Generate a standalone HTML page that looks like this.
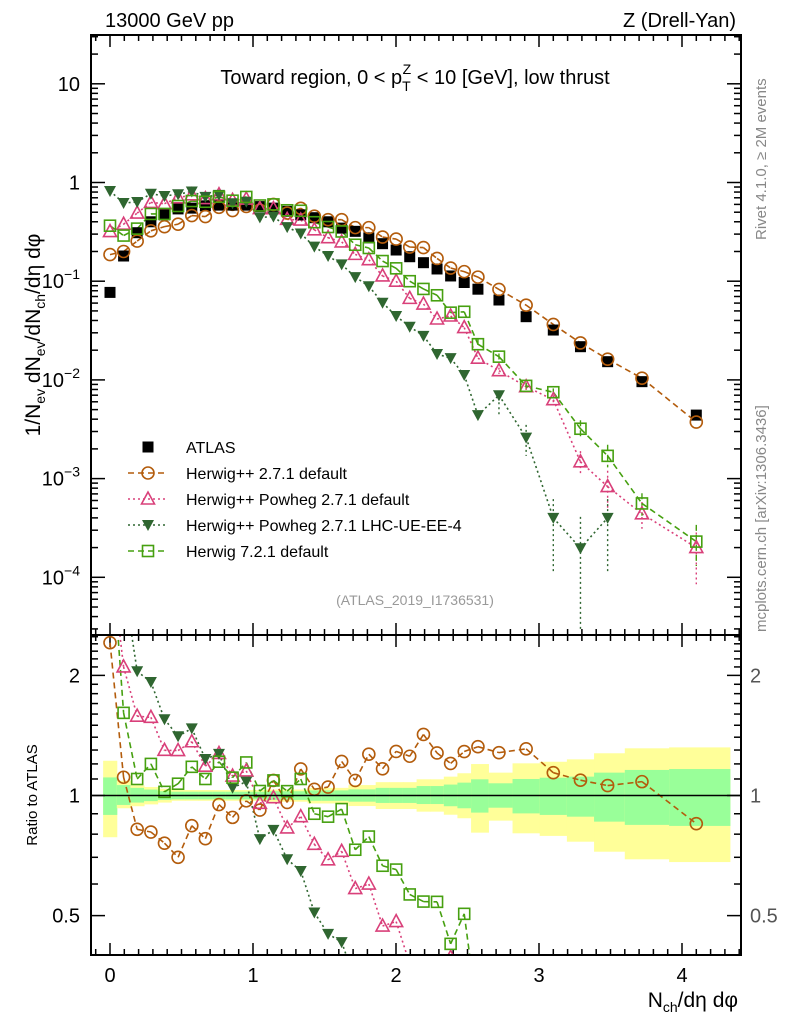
<!DOCTYPE html>
<html><head><meta charset="utf-8"><style>
html,body{margin:0;padding:0;background:#fff;width:786px;height:1024px;overflow:hidden;}
svg{display:block;font-family:"Liberation Sans",sans-serif;}
</style></head><body>
<svg id="chart" width="786" height="1024" viewBox="0 0 786 1024" xmlns="http://www.w3.org/2000/svg">
<defs>
<clipPath id="clipMain"><rect x="91" y="35" width="650" height="600"/></clipPath>
<clipPath id="clipRatio"><rect x="91" y="635" width="650" height="320"/></clipPath>
</defs>
<rect width="786" height="1024" fill="#fff"/>
<g id="ratioBand" clip-path="url(#clipRatio)"></g>
<g id="axes"></g>
<g id="mainMarks" clip-path="url(#clipMain)"></g>
<g id="ratioMarks" clip-path="url(#clipRatio)"></g>
<line x1="91" x2="741" y1="795.5" y2="795.5" stroke="#000" stroke-width="1.5"/>
<rect x="91" y="35" width="650" height="600" fill="none" stroke="#000" stroke-width="2"/>
<rect x="91" y="635" width="650" height="320" fill="none" stroke="#000" stroke-width="2"/>

<text x="105" y="27" font-size="20">13000 GeV pp</text>
<text x="736" y="27" font-size="20" text-anchor="end">Z (Drell-Yan)</text>
<text x="415" y="84" font-size="20" text-anchor="middle">Toward region, 0 &lt; p<tspan font-size="14" dy="7">T</tspan><tspan font-size="14" dx="-8" dy="-17">Z</tspan><tspan dy="10"> &lt; 10 [GeV], low thrust</tspan></text>
<text transform="translate(766,240) rotate(-90)" font-size="15" fill="#888">Rivet 4.1.0, ≥ 2M events</text>
<text transform="translate(766,632) rotate(-90)" font-size="15" fill="#888">mcplots.cern.ch [arXiv:1306.3436]</text>
<text x="415" y="605" font-size="14" fill="#999" text-anchor="middle">(ATLAS_2019_I1736531)</text>
<text transform="translate(40,335) rotate(-90)" font-size="21" text-anchor="middle">1/N<tspan font-size="14" dy="5">ev</tspan><tspan dy="-5"> dN</tspan><tspan font-size="14" dy="5">ev</tspan><tspan dy="-5">/dN</tspan><tspan font-size="14" dy="5">ch</tspan><tspan dy="-5">/dη dφ</tspan></text>
<text transform="translate(37,795) rotate(-90)" font-size="15" text-anchor="middle">Ratio to ATLAS</text>
<text x="738" y="1007" font-size="21" text-anchor="end">N<tspan font-size="14" dy="5">ch</tspan><tspan dy="-5">/dη dφ</tspan></text>

<g id="legend"></g>
</svg>
<script>
const xVals=[0,0.095,0.19,0.286,0.381,0.476,0.572,0.667,0.762,0.857,0.953,1.048,1.143,1.239,1.334,1.429,1.525,1.62,1.715,1.81,1.906,2.001,2.096,2.192,2.287,2.382,2.477,2.573,2.72,2.91,3.10,3.29,3.48,3.72,4.10];
const atlas=[0.077,0.18,0.31,0.40,0.47,0.54,0.55,0.58,0.59,0.59,0.59,0.57,0.55,0.51,0.47,0.44,0.40,0.345,0.32,0.275,0.24,0.207,0.177,0.154,0.133,0.113,0.097,0.083,0.0645,0.0437,0.032,0.0217,0.0153,0.0096,0.0044];
const herwigpp=[0.186,0.20,0.255,0.324,0.357,0.378,0.462,0.452,0.56,0.52,0.572,0.524,0.60,0.49,0.548,0.456,0.42,0.42,0.349,0.349,0.28,0.267,0.222,0.219,0.170,0.136,0.125,0.110,0.0826,0.0572,0.0365,0.0237,0.0162,0.0104,0.00374];
const powheg=[0.318,0.378,0.49,0.628,0.61,0.70,0.75,0.687,0.752,0.66,0.68,0.545,0.543,0.423,0.416,0.332,0.276,0.25,0.187,0.165,0.113,0.100,0.067,0.0587,0.0414,0.0444,0.0339,0.0166,0.0124,0.00853,0.0063,0.00148,0.00083,0.00044,0.0002];
const powhegUE=[0.82,0.62,0.635,0.77,0.73,0.76,0.81,0.716,0.75,0.617,0.639,0.443,0.451,0.353,0.304,0.224,0.18,0.148,0.11,0.089,0.0605,0.0444,0.0346,0.0279,0.0183,0.0166,0.0112,0.0044,0.007,0.0026,0.0004,0.000197,0.0004];
const herwig7=[0.365,0.29,0.341,0.48,0.48,0.578,0.649,0.638,0.717,0.654,0.714,0.585,0.60,0.523,0.517,0.396,0.354,0.319,0.234,0.217,0.16,0.135,0.10,0.0835,0.072,0.048,0.049,0.023,0.0172,0.0087,0.0075,0.0032,0.0017,0.00056,0.00023];
const tailErrLoPowheg=[0.0115,0.0078,0.0056,0.0011,0.00048,0.00031,0.000085];
const tailErrHiPowheg=[0.0133,0.0093,0.0070,0.0019,0.0012,0.00058,0.00032];
const tailErrLoUE=[0.0042,0.0017,0.00011,0.00003,0.00011];
const tailErrHiUE=[0.0075,0.0035,0.00062,0.00041,0.00062];
const tailErrLoH7=[0.0200,0.0160,0.0080,0.0068,0.0026,0.0013,0.00042,0.00013];
const tailErrHiH7=[0.0260,0.0185,0.0094,0.0082,0.0039,0.0022,0.00071,0.00034];
const bandYHi=[1.222,1.089,1.06,1.05,1.04,1.032,1.032,1.032,1.032,1.032,1.032,1.032,1.035,1.035,1.035,1.045,1.045,1.045,1.062,1.062,1.08,1.08,1.08,1.098,1.098,1.115,1.137,1.199,1.141,1.204,1.215,1.232,1.276,1.313,1.32];
const bandYLo=[0.786,0.929,0.94,0.95,0.96,0.97,0.97,0.97,0.97,0.97,0.97,0.97,0.965,0.965,0.965,0.955,0.955,0.955,0.941,0.941,0.925,0.925,0.925,0.911,0.911,0.895,0.877,0.807,0.865,0.804,0.792,0.766,0.723,0.692,0.681];
const bandGHi=[1.11,1.062,1.045,1.035,1.025,1.022,1.022,1.022,1.022,1.022,1.022,1.022,1.025,1.025,1.025,1.03,1.03,1.03,1.036,1.036,1.045,1.045,1.045,1.056,1.056,1.065,1.077,1.098,1.073,1.10,1.108,1.115,1.141,1.159,1.165];
const bandGLo=[0.894,0.947,0.96,0.968,0.975,0.978,0.978,0.978,0.978,0.978,0.978,0.978,0.975,0.975,0.975,0.97,0.97,0.97,0.965,0.965,0.958,0.958,0.958,0.952,0.952,0.94,0.929,0.906,0.932,0.902,0.894,0.885,0.86,0.844,0.839];
const xTicks=[0,1,2,3,4];
const yDecades=[-4,-3,-2,-1,0,1];
const ratioTicks=[0.5,1,2];
const seriesNames=["ATLAS","Herwig++ 2.7.1 default","Herwig++ Powheg 2.7.1 default","Herwig++ Powheg 2.7.1 LHC-UE-EE-4","Herwig 7.2.1 default"];

const NS="http://www.w3.org/2000/svg";
function X(v){return 110+143*v;}
function Y(v){return 182.5-98.7*Math.log10(v);}
function R(r){return 795.5-399*Math.log10(r);}
function mk(tag,attrs,parent){const e=document.createElementNS(NS,tag);for(const k in attrs)e.setAttribute(k,attrs[k]);parent.appendChild(e);return e;}

const axes=document.getElementById('axes');
const mainG=document.getElementById('mainMarks');
const ratioG=document.getElementById('ratioMarks');
const bandG=document.getElementById('ratioBand');

function edges(i){
  const l=i===0?xVals[0]-0.048:(xVals[i-1]+xVals[i])/2;
  const r=i===xVals.length-1?4.335:(xVals[i]+xVals[i+1])/2;
  return [X(l),X(r)];
}
for(let i=0;i<xVals.length;i++){
  const [a,b]=edges(i);
  const ry=mk('rect',{x:a,y:R(bandYHi[i]),width:b-a+0.5,height:R(bandYLo[i])-R(bandYHi[i]),fill:'#ffff99'},bandG);
  
  
  const rg=mk('rect',{x:a,y:R(bandGHi[i]),width:b-a+0.5,height:R(bandGLo[i])-R(bandGHi[i]),fill:'#99ff99'},bandG);
  
  
}

function tick(x1,y1,x2,y2,name){const t=mk('line',{x1,y1,x2,y2,stroke:'#000','stroke-width':1.5},axes);}
for(let k=-1;k<=44;k++){
  const vv=k/10;const major=(k%10===0);const x=X(vv);
  if(x<92||x>740)continue;
  const L=major?12:6;
  tick(x,635,x,635-L,'x-tick');tick(x,35,x,35+L,'x-tick');
  tick(x,955,x,955-L,'x-tick');tick(x,635,x,635+L,'x-tick');
}
xTicks.forEach(v=>{const t=mk('text',{x:X(v),y:982,'font-size':20,'text-anchor':'middle'},axes);t.textContent=String(v);});
for(let d=-5;d<=1;d++){
  for(let m=1;m<=9;m++){
    const y=Y(m*Math.pow(10,d));if(y<36||y>634)continue;
    const L=m===1?14:7;
    tick(91,y,91+L,y,'y-tick');tick(741,y,741-L,y,'y-tick');
  }
}
yDecades.forEach(d=>{
  const t=mk('text',{x:80,y:Y(Math.pow(10,d))+7,'font-size':20,'text-anchor':'end'},axes);
  
  
  if(d===0){t.textContent='1';}
  else if(d===1){t.textContent='10';}
  else{t.textContent='10';const s=mk('tspan',{'font-size':14,dy:-9},t);s.textContent='−'+(-d);}
});
for(let k=4;k<=25;k++){
  const rr=k/10;const y=R(rr);if(y<636||y>954)continue;
  const major=ratioTicks.indexOf(rr)>=0;const L=major?14:7;
  tick(91,y,91+L,y,'ratio-y-tick');tick(741,y,741-L,y,'ratio-y-tick');
}
ratioTicks.forEach(r=>{
  const t1=mk('text',{x:80,y:R(r)+7,'font-size':20,'text-anchor':'end'},axes);t1.textContent=String(r);
  
  const t2=mk('text',{x:750,y:R(r)+7,'font-size':20,'text-anchor':'start',fill:'#555'},axes);t2.textContent=String(r);
  
});

function marker(kind,color,x,y,parent,name){
  let e;
  if(kind==='sqf'){e=mk('rect',{x:x-5.5,y:y-5.5,width:11,height:11,fill:'#000'},parent);}
  else if(kind==='circ'){e=mk('circle',{cx:x,cy:y,r:6,fill:'none',stroke:color,'stroke-width':1.6},parent);}
  else if(kind==='triu'){e=mk('polygon',{points:(x)+','+(y-7)+' '+(x-6.5)+','+(y+5)+' '+(x+6.5)+','+(y+5),fill:'none',stroke:color,'stroke-width':1.6},parent);}
  else if(kind==='trid'){e=mk('polygon',{points:(x)+','+(y+6)+' '+(x-6)+','+(y-5)+' '+(x+6)+','+(y-5),fill:color},parent);}
  else {e=mk('rect',{x:x-5.5,y:y-5.5,width:11,height:11,fill:'none',stroke:color,'stroke-width':1.6},parent);}
  
  
  return e;
}
// clip a polyline to a y band so nothing extends outside the page
function clippedPath(pts,ymin,ymax){
  let d='';
  for(let i=0;i<pts.length-1;i++){
    let [x1,y1]=pts[i],[x2,y2]=pts[i+1];
    let t0=0,t1=1;const dy=y2-y1;
    if(dy===0){if(y1<ymin||y1>ymax)continue;}
    else{
      let ta=(ymin-y1)/dy,tb=(ymax-y1)/dy;
      if(ta>tb){const tt=ta;ta=tb;tb=tt;}
      t0=Math.max(0,ta);t1=Math.min(1,tb);
      if(t0>t1)continue;
    }
    const ax=x1+(x2-x1)*t0,ay=y1+dy*t0,bx=x1+(x2-x1)*t1,by=y1+dy*t1;
    d+='M'+ax.toFixed(2)+','+ay.toFixed(2)+'L'+bx.toFixed(2)+','+by.toFixed(2);
  }
  return d||'M0,0';
}
const series=[
  {name:'herwigpp-2.7.1',data:herwigpp,color:'#b35c0c',kind:'circ',dash:'6,4'},
  {name:'herwigpp-powheg-default',data:powheg,color:'#d9407a',kind:'triu',dash:'2,3',elo:tailErrLoPowheg,ehi:tailErrHiPowheg},
  {name:'herwigpp-powheg-lhc-ue-ee-4',data:powhegUE,color:'#2f6630',kind:'trid',dash:'2,3',elo:tailErrLoUE,ehi:tailErrHiUE},
  {name:'herwig-7.2.1',data:herwig7,color:'#46a010',kind:'sqo',dash:'6,4',elo:tailErrLoH7,ehi:tailErrHiH7}
];
series.forEach(s=>{
  const mpts=s.data.map((v,i)=>[X(xVals[i]),Y(v)]);
  const pl=mk('path',{d:clippedPath(mpts,30,640),fill:'none',stroke:s.color,'stroke-width':1.6,'stroke-dasharray':s.dash},mainG);
  
  
  const rpts=s.data.map((v,i)=>[X(xVals[i]),R(v/atlas[i])]);
  const rl=mk('path',{d:clippedPath(rpts,630,960),fill:'none',stroke:s.color,'stroke-width':1.6,'stroke-dasharray':s.dash},ratioG);
  
  
  if(s.elo){
    const start=s.data.length-s.elo.length;
    s.elo.forEach((lo,j)=>{
      const x=X(xVals[start+j]);
      const hi=s.ehi[j];
      const eb=mk('line',{x1:x,x2:x,y1:Math.max(30,Y(hi)),y2:Math.min(640,Y(lo)),stroke:s.color,'stroke-width':1.4,'stroke-dasharray':s.dash},mainG);
      
      
    });
  }
});
atlas.forEach((v,i)=>{marker('sqf','#000',X(xVals[i]),Y(v),mainG,'atlas-point');});
series.forEach(s=>{
  s.data.forEach((v,i)=>{
    const ym=Y(v);
    if(ym>25&&ym<645){marker(s.kind,s.color,X(xVals[i]),ym,mainG,s.name+'-point');}
    const yr=R(v/atlas[i]);
    if(yr>625&&yr<965){marker(s.kind,s.color,X(xVals[i]),yr,ratioG,s.name+'-ratio-point');}
  });
});

const lg=document.getElementById('legend');
const kinds=['sqf','circ','triu','trid','sqo'];
const cols=['#000','#b35c0c','#d9407a','#2f6630','#46a010'];
const dashes=[null,'6,4','2,3','2,3','6,4'];
seriesNames.forEach((n,i)=>{
  const y=447+26*i;
  if(dashes[i]){const l=mk('line',{x1:128,x2:168,y1:y,y2:y,stroke:cols[i],'stroke-width':1.6,'stroke-dasharray':dashes[i]},lg);}
  marker(kinds[i],cols[i],148,y,lg,'legend-marker');
  const t=mk('text',{x:186,y:y+6,'font-size':16},lg);t.textContent=n;
  
  
});
</script>
</body></html>
